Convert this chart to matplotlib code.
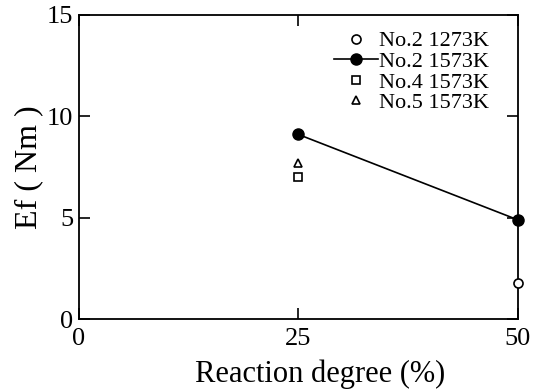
import matplotlib
matplotlib.use("Agg")
import matplotlib.pyplot as plt

plt.rcParams['font.family'] = ['Liberation Serif', 'DejaVu Serif']
plt.rcParams['mathtext.fontset'] = 'stix'

# reaction degree (%) vs fracture energy Ef (Nm)
no2_1273_x = [50]
no2_1273_y = [1.8]
no2_1573_x = [25, 50]
no2_1573_y = [9.1, 4.9]
no4_1573_x = [25]
no4_1573_y = [7.0]
no5_1573_x = [25]
no5_1573_y = [7.7]

x_ticks = [0, 25, 50]
y_ticks = [0, 5, 10, 15]

fig = plt.figure(figsize=(5.4, 3.92), dpi=100)
ax = fig.add_axes([0.146, 0.185, 0.813, 0.778])

ax.plot(no2_1273_x, no2_1273_y, 'o', ms=6.5, mfc='white', mec='black', mew=1.2,
        clip_on=False, zorder=5, label='No.2 1273K')
ax.plot(no2_1573_x, no2_1573_y, '-o', color='black', lw=1.2, ms=8,
        clip_on=False, zorder=6, label='No.2 1573K')
ax.plot(no4_1573_x, no4_1573_y, 's', ms=6, mfc='white', mec='black', mew=1.2,
        clip_on=False, zorder=5, label='No.4 1573K')
ax.plot(no5_1573_x, no5_1573_y, '^', ms=6, mfc='white', mec='black', mew=1.2,
        clip_on=False, zorder=5, label='No.5 1573K')

ax.set_xlim(0, 50)
ax.set_ylim(0, 15)
ax.set_xticks(x_ticks)
ax.set_yticks(y_ticks)
ax.tick_params(direction='in', length=8, width=1.2, top=True, right=True,
               labelsize=19, pad=4)
ax.tick_params(axis='x', pad=6)
for s in ax.spines.values():
    s.set_linewidth(1.3)

ax.set_xlabel('Reaction degree (%)', fontsize=22)
ax.set_ylabel('Ef ( Nm )', fontsize=23)
ax.xaxis.set_label_coords(0.55, -0.13)
ax.yaxis.set_label_coords(-0.08, 0.5)

leg = ax.legend(loc='upper right', bbox_to_anchor=(0.965, 0.99), frameon=False,
                fontsize=16, handlelength=2.0, handletextpad=0.05,
                labelspacing=0.0, borderaxespad=0.2)

fig.savefig('out.png', dpi=100)
